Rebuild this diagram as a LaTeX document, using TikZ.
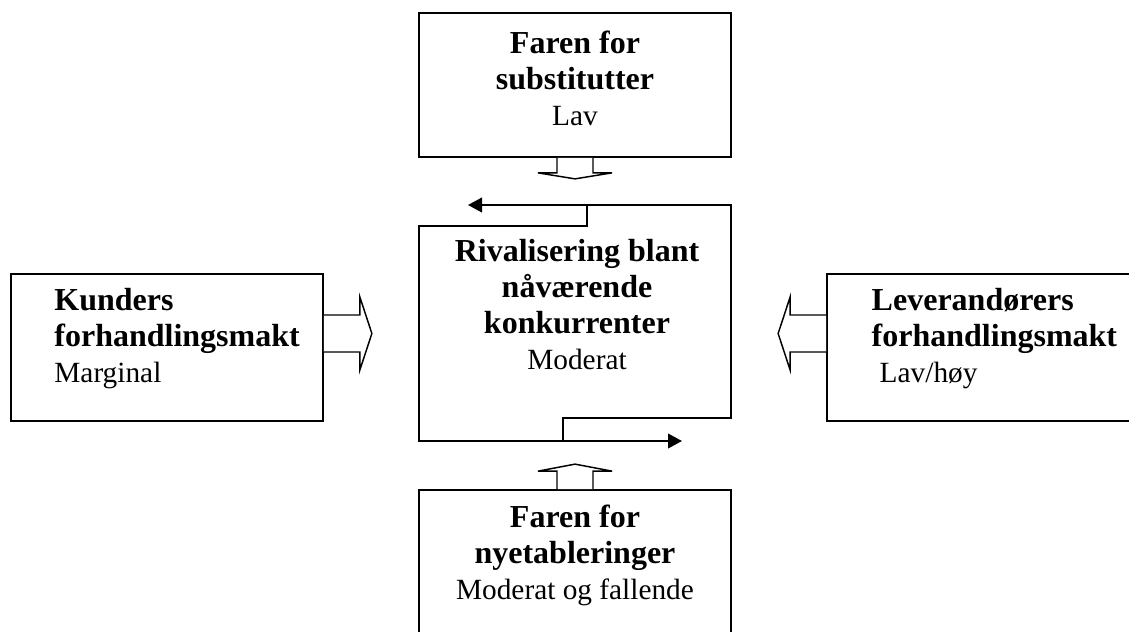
\documentclass[tikz,border=0pt]{standalone}
\usepackage{fontspec}
\setmainfont{Liberation Serif}
\usetikzlibrary{arrows.meta}
\usetikzlibrary{calc}

\tikzset{
	frame/.style={draw,line width=1.3pt,minimum width=234pt,minimum height=108pt,inner sep=0pt},
	txt/.style={font=\fontsize{22}{27}\selectfont,inner sep=0pt},
	blk/.style={draw,line width=1.1pt,fill=white,line join=miter},
	flow/.style={line width=1.4pt,->},
}
\newcommand{\hd}[1]{\textbf{\fontsize{24}{28}\selectfont #1}}

\begin{document}
\begin{tikzpicture}[x=0.75pt,y=-0.75pt,>={Triangle[length=10.5pt,width=11pt]}]
	\useasboundingbox (0,0) rectangle (1129,632);

	% the four forces
	\node[frame] (sub) at (575,85) {};
	\node[frame,minimum height=110pt] (kund) at (167,347.5) {};
	\node[frame,minimum height=110pt] (lev) at (983,347.5) {};
	\node[frame] (nye) at (575,562) {};

	\node[txt,align=center] (subtxt) at ([yshift=5pt]sub.center) {\hd{Faren for}\\ \hd{substitutter}\\ Lav};
	\node[txt,align=left,anchor=west] (kundtxt) at ([xshift=33pt,yshift=7pt]kund.west) {\hd{Kunders}\\ \hd{forhandlingsmakt}\\ Marginal};
	\node[txt,align=left,anchor=west] (levtxt) at ([xshift=34pt,yshift=7pt]lev.west) {\hd{Leverandørers}\\ \hd{forhandlingsmakt}\\ \hspace*{6pt}Lav/høy};
	\node[txt,align=center] (nyetxt) at ([yshift=5pt]nye.center) {\hd{Faren for}\\ \hd{nyetableringer}\\ Moderat og fallende};

	% rivalry in the middle
	\node[txt,align=center] (riv) at (577,305) {\hd{Rivalisering blant}\\ \hd{nåværende}\\ \hd{konkurrenter}\\ Moderat};

	\coordinate (c1) at (563,441);
	\coordinate (c2) at (563,418);
	\coordinate (c3) at (731,418);
	\coordinate (c4) at (731,205);
	\coordinate (c5) at (468,205);
	\coordinate (d1) at (587,205);
	\coordinate (d2) at (587,226);
	\coordinate (d3) at (419,226);
	\coordinate (d4) at (419,441);
	\coordinate (d5) at (682,441);
	\draw[flow] (c1) -- (c2) -- (c3) -- (c4) -- (c5);
	\draw[flow] (d1) -- (d2) -- (d3) -- (d4) -- (d5);

	% block arrows into the middle
	\draw[blk] ($(sub.south)+(-18,0)$) -- ++(0,15) -- ++(-19,0) -- ($(sub.south)+(0,21)$) -- ($(sub.south)+(37,15)$) -- ($(sub.south)+(18,15)$) -- ($(sub.south)+(18,0)$);
	\draw[blk] ($(nye.north)+(-18,0)$) -- ++(0,-18) -- ++(-19,0) -- ($(nye.north)+(0,-25)$) -- ($(nye.north)+(37,-18)$) -- ($(nye.north)+(18,-18)$) -- ($(nye.north)+(18,0)$);
	\draw[blk] ($(kund.east)+(0,-32.5)$) -- ++(36,0) -- ++(0,-18) -- ($(kund.east)+(48,-14)$) -- ($(kund.east)+(36,22.5)$) -- ($(kund.east)+(36,4.5)$) -- ($(kund.east)+(0,4.5)$);
	\draw[blk] ($(lev.west)+(0,-32.5)$) -- ++(-36,0) -- ++(0,-18) -- ($(lev.west)+(-48,-14)$) -- ($(lev.west)+(-36,22.5)$) -- ($(lev.west)+(-36,4.5)$) -- ($(lev.west)+(0,4.5)$);
\end{tikzpicture}
\end{document}
